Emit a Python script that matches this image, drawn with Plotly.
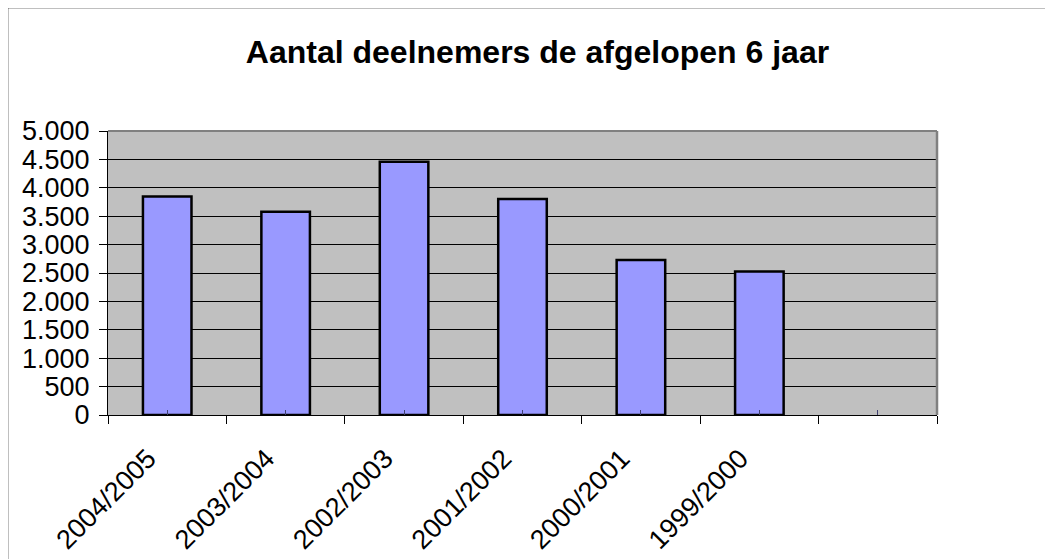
import plotly.graph_objects as go

categories = ["2004/2005", "2003/2004", "2002/2003", "2001/2002", "2000/2001", "1999/2000", " "]
deelnemers = [3845, 3580, 4460, 3805, 2730, 2525, None]
y_ticks = [0, 500, 1000, 1500, 2000, 2500, 3000, 3500, 4000, 4500, 5000]
title_text = "Aantal deelnemers de afgelopen 6 jaar"

FONT = "Liberation Sans, Arial, sans-serif"

# page body has an 8px margin; compensate so the figure lands where the reference is
OFF = 8
W, H = 1053 - OFF, 559 - OFF
L, T, R_EDGE, B_EDGE = 108 - OFF, 131 - OFF, 937 - OFF, 415 - OFF
PW, PH = R_EDGE - L, B_EDGE - T

fig = go.Figure()
fig.add_trace(go.Bar(
    x=categories, y=deelnemers,
    marker=dict(color="#9999FF", line=dict(color="black", width=2.5)),
    width=0.41, showlegend=False, hoverinfo="x+y",
))
# helper trace for the centre tick marks (inside ticks)
fig.add_trace(go.Scatter(x=categories, y=[None] * len(categories), xaxis="x2",
                         mode="lines", showlegend=False, hoverinfo="skip"))

fig.update_layout(
    width=W, height=H,
    margin=dict(l=L, r=W - R_EDGE, t=T, b=H - B_EDGE, pad=0, autoexpand=False),
    paper_bgcolor="white", plot_bgcolor="#C0C0C0",
    separators=",.",
    font=dict(family=FONT, color="black", size=25),
    title=dict(text="<b>" + title_text + "</b>", x=(537.5 - 108) / 829, xref="paper",
               xanchor="center", y=1 - (52 - OFF) / H, yref="container", yanchor="middle",
               font=dict(family=FONT, size=32, color="black")),
    xaxis=dict(type="category", categoryorder="array", categoryarray=categories,
               range=[-0.5, 6.5], tickson="boundaries", ticks="outside", ticklen=8,
               tickcolor="black", tickwidth=1, showline=True, linecolor="black", linewidth=1,
               showgrid=False, tickangle=-45, ticklabelstandoff=16, ticklabelshift=-19,
               automargin=False,
               tickfont=dict(family=FONT, size=27, color="black")),
    xaxis2=dict(type="category", categoryorder="array", categoryarray=categories,
                range=[-0.5, 6.5], overlaying="x", side="bottom", ticks="inside", ticklen=5,
                tickcolor="#404070", tickwidth=1, showticklabels=False, showline=False,
                showgrid=False, anchor="y", automargin=False),
    yaxis=dict(range=[0, 5000], tickvals=y_ticks, tickformat=",d", ticks="outside", ticklen=8,
               tickcolor="black", showline=True, linecolor="black", linewidth=1,
               showgrid=True, gridcolor="black", gridwidth=1, zeroline=False,
               ticklabelstandoff=4, automargin=False,
               tickfont=dict(family=FONT, size=27, color="black")),
    shapes=[
        dict(type="line", xref="paper", yref="paper", x0=0, x1=1, y0=1, y1=1,
             line=dict(color="#808080", width=2), layer="above"),
        dict(type="line", xref="paper", yref="paper", x0=1, x1=1, y0=0, y1=1,
             line=dict(color="#808080", width=2.5), layer="above"),
        dict(type="rect", xref="paper", yref="paper", x0=(7.5 - 108) / PW, x1=1.4,
             y0=-0.8, y1=(415 - 7.5) / PH, line=dict(color="black", width=1.5),
             fillcolor="rgba(0,0,0,0)", layer="below"),
    ],
)

fig.write_html("out.html")
